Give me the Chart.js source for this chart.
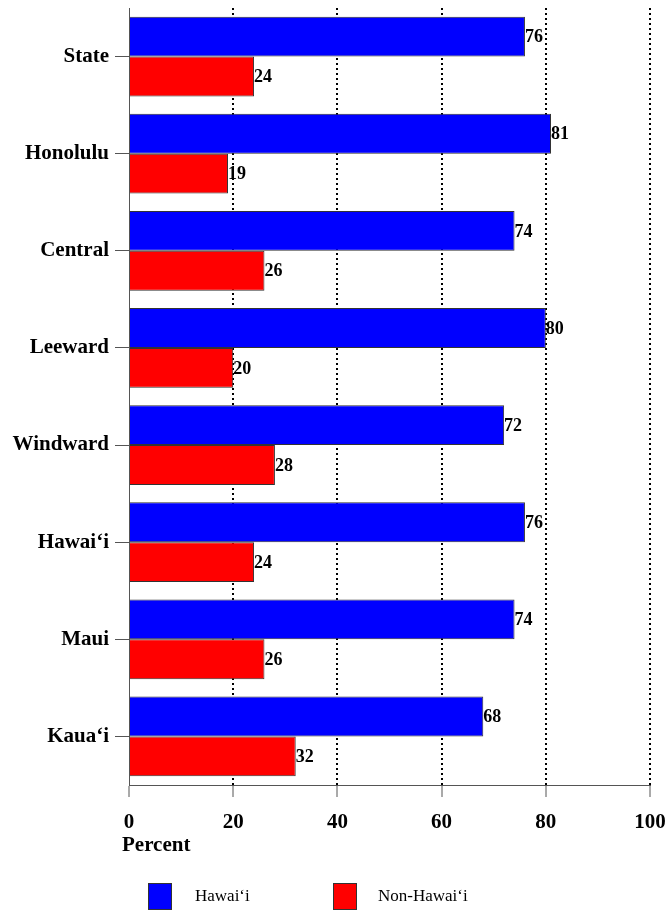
<!DOCTYPE html>
<html>
<head>
<meta charset="utf-8">
<script src="https://cdn.jsdelivr.net/npm/chart.js@4"></script>
<style>
  html, body { margin: 0; padding: 0; background: #fff; }
  #wrap { width: 669px; height: 911px; }
</style>
</head>
<body>
<div id="wrap"><canvas id="chart" width="669" height="911"></canvas></div>
<script>
// Chart data
const regions = ['State', 'Honolulu', 'Central', 'Leeward', 'Windward', 'Hawai\u2018i', 'Maui', 'Kaua\u2018i'];
const hawaiiValues = [76, 81, 74, 80, 72, 76, 74, 68];
const nonHawaiiValues = [24, 19, 26, 20, 28, 24, 26, 32];
const xTicks = [0, 20, 40, 60, 80, 100];
const seriesNames = ['Hawai\u2018i', 'Non-Hawai\u2018i'];

const SERIF = '"Liberation Serif", "Times New Roman", serif';

// Value labels at the end of each bar, plus the axis title and legend
const extrasPlugin = {
    id: 'extras',
    afterDatasetsDraw(chart) {
        const ctx = chart.ctx;
        ctx.save();
        ctx.font = 'bold 18px ' + SERIF;
        ctx.fillStyle = '#000';
        ctx.textBaseline = 'middle';
        ctx.textAlign = 'left';
        chart.data.datasets.forEach((ds, i) => {
            chart.getDatasetMeta(i).data.forEach((bar, j) => {
                ctx.fillText(String(ds.data[j]), bar.x, bar.y + 1);
            });
        });
        ctx.restore();
    },
    afterDraw(chart) {
        const ctx = chart.ctx;
        const area = chart.chartArea;
        ctx.save();
        ctx.fillStyle = '#000';
        ctx.textBaseline = 'middle';
        ctx.font = 'bold 21px ' + SERIF;
        ctx.fillText('Percent', area.left - 7, area.bottom + 61);

        // legend
        ctx.font = '17px ' + SERIF;
        const items = [
            { x: 148, textX: 195 },
            { x: 333, textX: 378 }
        ];
        items.forEach((it, i) => {
            const ds = chart.data.datasets[i];
            ctx.fillStyle = ds.backgroundColor;
            ctx.fillRect(it.x, 883, 23, 26);
            ctx.strokeStyle = '#333';
            ctx.lineWidth = 1;
            ctx.strokeRect(it.x + 0.5, 883.5, 23, 26);
            ctx.fillStyle = '#000';
            ctx.fillText(seriesNames[i], it.textX, 897);
        });
        ctx.restore();
    }
};

new Chart(document.getElementById('chart').getContext('2d'), {
    type: 'bar',
    data: {
        labels: regions,
        datasets: [
            {
                label: seriesNames[0],
                data: hawaiiValues,
                backgroundColor: '#0000ff',
                borderColor: '#333333',
                borderWidth: 1,
                barPercentage: 1,
                categoryPercentage: 0.82
            },
            {
                label: seriesNames[1],
                data: nonHawaiiValues,
                backgroundColor: '#ff0000',
                borderColor: '#333333',
                borderWidth: 1,
                barPercentage: 1,
                categoryPercentage: 0.82
            }
        ]
    },
    options: {
        indexAxis: 'y',
        responsive: false,
        animation: false,
        devicePixelRatio: 1,
        layout: {
            padding: { top: 8, right: 19, left: 0, bottom: 0 }
        },
        plugins: {
            legend: { display: false },
            tooltip: { enabled: false }
        },
        scales: {
            x: {
                min: 0,
                max: 100,
                afterBuildTicks: function(scale) {
                    scale.ticks = xTicks.map(v => ({ value: v }));
                },
                afterFit: function(scale) {
                    scale.height = 126;
                    scale.paddingLeft = 0;
                    scale.paddingRight = 0;
                },
                border: { display: true, color: '#555555', width: 1, dash: [2, 3] },
                grid: {
                    color: ctx => (ctx.tick && ctx.tick.value === 0) ? 'rgba(0,0,0,0)' : '#000000',
                    lineWidth: 2,
                    tickBorderDash: [],
                    tickColor: '#555555',
                    tickWidth: 1,
                    tickLength: 12,
                    drawTicks: true
                },
                ticks: {
                    color: '#000',
                    padding: 13,
                    font: { family: SERIF, size: 21, weight: 'bold' }
                }
            },
            y: {
                afterFit: function(scale) {
                    scale.width = 129;
                    scale.paddingTop = 0;
                    scale.paddingBottom = 0;
                },
                border: { display: true, color: '#555555', width: 1 },
                grid: {
                    offset: false,
                    drawOnChartArea: false,
                    tickColor: '#555555',
                    tickLength: 14
                },
                ticks: {
                    color: '#000',
                    padding: 6,
                    font: { family: SERIF, size: 21, weight: 'bold' }
                }
            }
        }
    },
    plugins: [extrasPlugin]
});
</script>
</body>
</html>
